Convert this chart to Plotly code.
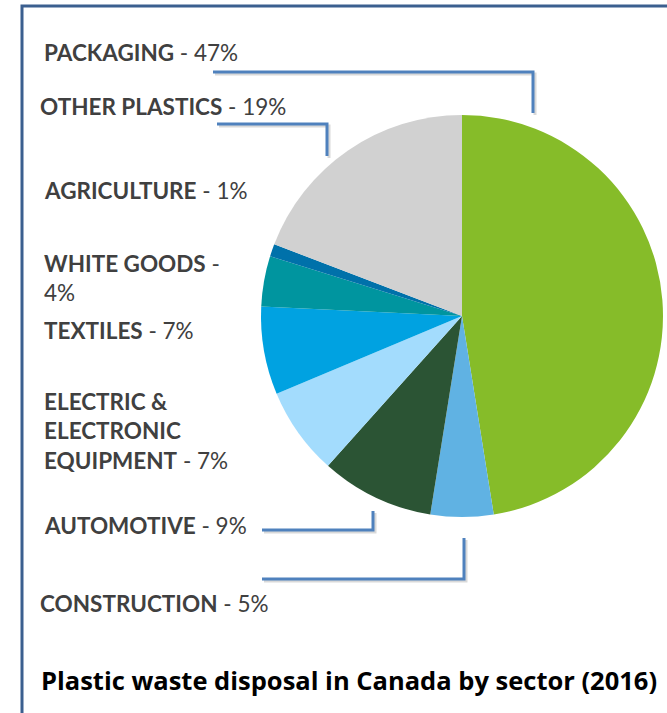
import plotly.graph_objects as go

W, H = 667, 713

sectors = ["PACKAGING", "CONSTRUCTION", "AUTOMOTIVE", "ELECTRIC & ELECTRONIC EQUIPMENT",
           "TEXTILES", "WHITE GOODS", "AGRICULTURE", "OTHER PLASTICS"]
shares = [47, 5, 9, 7, 7, 4, 1, 19]
colors = ["#86bc29", "#60b2e3", "#2b5434", "#a3dcfd", "#00a2e1", "#00959f", "#0071aa", "#d1d1d1"]
title = "Plastic waste disposal in Canada by sector (2016)"

def px(x):
    return x / W

def py(y):
    return 1 - y / H

fig = go.Figure()
cx, cy, r = 462, 316, 201
fig.add_trace(go.Pie(
    labels=sectors, values=shares, sort=False, direction="clockwise", rotation=0,
    marker=dict(colors=colors, line=dict(width=0)),
    textinfo="none", hoverinfo="label+percent", showlegend=False,
    domain=dict(x=[px(cx - r), px(cx + r)], y=[py(cy + r), py(cy - r)]),
))

FONT = "Lato"
TXT = "#404040"
lab_text = {
    "PACKAGING": "<b>PACKAGING</b> - 47%",
    "OTHER PLASTICS": "<b>OTHER PLASTICS</b> - 19%",
    "AGRICULTURE": "<b>AGRICULTURE</b> - 1%",
    "WHITE GOODS": "<b>WHITE GOODS</b> -<br>4%",
    "TEXTILES": "<b>TEXTILES</b> - 7%",
    "ELECTRIC & ELECTRONIC EQUIPMENT": "<b>ELECTRIC &amp;<br>ELECTRONIC<br>EQUIPMENT</b> - 7%",
    "AUTOMOTIVE": "<b>AUTOMOTIVE</b> - 9%",
    "CONSTRUCTION": "<b>CONSTRUCTION</b> - 5%",
}
lab_pos = {
    "PACKAGING": (42, 52),
    "OTHER PLASTICS": (38, 106),
    "AGRICULTURE": (42, 191),
    "WHITE GOODS": (42, 278),
    "TEXTILES": (42, 330),
    "ELECTRIC & ELECTRONIC EQUIPMENT": (42, 431),
    "AUTOMOTIVE": (42, 525),
    "CONSTRUCTION": (38, 603),
}
for s in sectors:
    x, y = lab_pos[s]
    fig.add_annotation(text=lab_text[s], x=px(x), y=py(y), xref="paper", yref="paper",
                       xanchor="left", yanchor="middle", align="left", showarrow=False,
                       font=dict(family=FONT, size=22.5, color=TXT))

fig.add_annotation(text="<b>" + title + "</b>", x=px(39), y=py(680), xref="paper", yref="paper",
                   xanchor="left", yanchor="middle", showarrow=False,
                   font=dict(family="Open Sans", size=25.5, color="#000000"))

leaders = [
    [(213, 72), (533, 72), (533, 113)],
    [(217, 124), (327, 124), (327, 156)],
    [(262, 530), (373, 530), (373, 511)],
    [(262, 579), (464, 579), (464, 538)],
]
shapes = []
for pts in leaders:
    for off, col in [((2, 2), "rgba(0,0,0,0.15)"), ((0, 0), "#4f81bd")]:
        path = "M " + " L ".join(f"{px(x + off[0])},{py(y + off[1])}" for x, y in pts)
        shapes.append(dict(type="path", path=path, xref="paper", yref="paper",
                           line=dict(color=col, width=3)))

frame = [(22, 713), (22, 6), (667, 6)]
shapes.append(dict(type="path", xref="paper", yref="paper",
                   path="M " + " L ".join(f"{px(x)},{py(y)}" for x, y in frame),
                   line=dict(color="#3b5f8f", width=3)))

fig.update_layout(width=W, height=H, margin=dict(l=0, r=0, t=0, b=0),
                  paper_bgcolor="white", plot_bgcolor="white", shapes=shapes)

fig.write_html("out.html")
